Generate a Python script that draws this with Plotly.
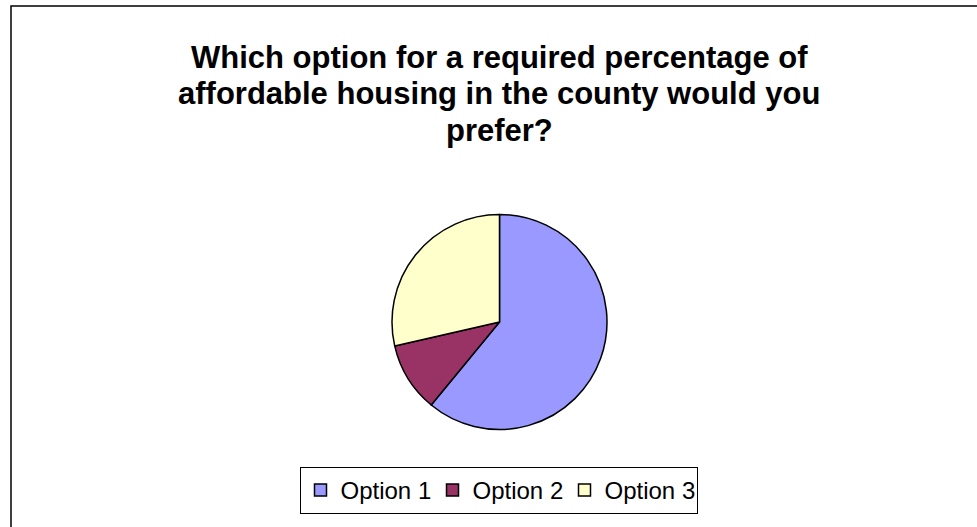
import plotly.graph_objects as go

W, H = 977, 527

# Survey responses
options = ["Option 1", "Option 2", "Option 3"]
responses = [64, 11, 30]
colors = ["#9999FF", "#993366", "#FFFFCC"]

title_lines = [
    "Which option for a required percentage of",
    "affordable housing in the county would you",
    "prefer?",
]
title_centers_px = [57, 94, 131]

fig = go.Figure(
    go.Pie(
        labels=options,
        values=responses,
        sort=False,
        direction="clockwise",
        rotation=0,
        textinfo="none",
        hoverinfo="label+value+percent",
        marker=dict(colors=colors, line=dict(color="black", width=1.5)),
        domain=dict(x=[392 / W, 607 / W], y=[1 - 430 / H, 1 - 214 / H]),
    )
)

# Chart area border (top and left edges visible)
fig.add_shape(
    type="rect", xref="paper", yref="paper",
    x0=11 / W, x1=1.05, y0=-0.05, y1=1 - 6 / H,
    line=dict(color="black", width=1.5), fillcolor="rgba(0,0,0,0)",
)

# Title, one annotation per line for tighter line spacing
for line, yc in zip(title_lines, title_centers_px):
    fig.add_annotation(
        text=f"<b>{line}</b>", xref="paper", yref="paper",
        x=499 / W, y=1 - yc / H, xanchor="center", yanchor="middle",
        showarrow=False, align="center",
        font=dict(family="Liberation Sans, Arial, sans-serif", size=31, color="black"),
    )

fig.update_layout(
    width=W, height=H,
    margin=dict(l=0, r=0, t=0, b=0),
    paper_bgcolor="white",
    plot_bgcolor="white",
    font=dict(family="Liberation Sans, Arial, sans-serif", color="black"),
    showlegend=True,
    legend=dict(
        orientation="h",
        x=498.5 / W, xanchor="center",
        y=1 - 467 / H, yanchor="top",
        bordercolor="black", borderwidth=1,
        font=dict(size=24, color="black"),
        entrywidth=87,
        itemclick=False,
    ),
)

fig.write_html("out.html")
